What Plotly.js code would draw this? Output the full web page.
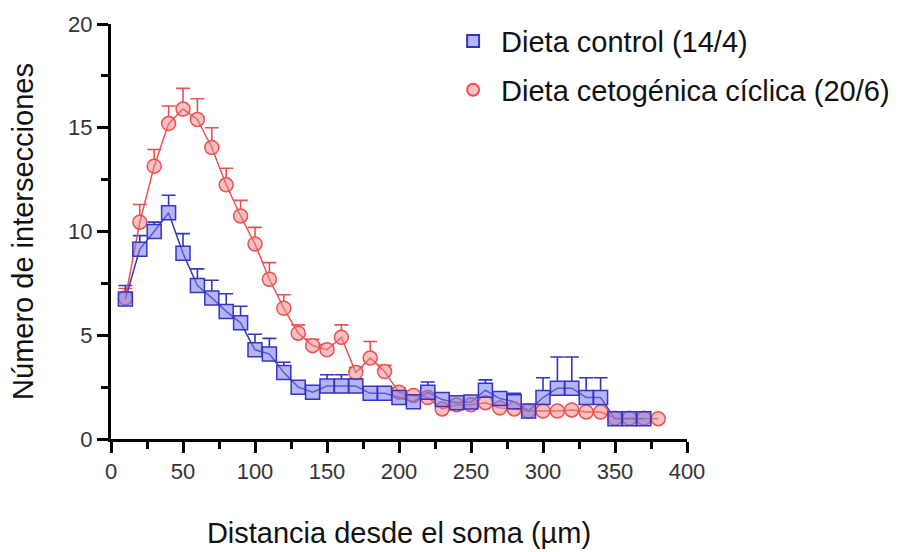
<!DOCTYPE html>
<html>
<head>
<meta charset="utf-8">
<script src="https://cdn.plot.ly/plotly-3.0.1.min.js"></script>
<style>html,body{margin:0;padding:0;background:#fff;}#chart{width:908px;height:552px;}</style>
</head>
<body>
<div id="chart"></div>
<script>
// Distance from soma (µm)
const distBlue = [10,20,30,40,50,60,70,80,90,100,110,120,130,140,150,160,170,180,190,200,210,220,230,240,250,260,270,280,290,300,310,320,330,340,350,360,370];
const distRed  = [10,20,30,40,50,60,70,80,90,100,110,120,130,140,150,160,170,180,190,200,210,220,230,240,250,260,270,280,290,300,310,320,330,340,350,360,370,380];

// Dieta control (14/4)
const blueMean = [6.75,9.15,10.0,10.9,8.95,7.4,6.8,6.15,5.6,4.3,4.1,3.2,2.5,2.25,2.55,2.55,2.55,2.2,2.2,2.0,1.8,2.25,1.9,1.75,1.78,2.35,1.95,1.8,1.35,2.0,2.45,2.45,2.0,2.0,0.97,0.97,0.97];
const blueErr  = [0.65,0.65,0.45,0.85,0.95,0.8,0.85,0.85,0.8,0.75,0.75,0.5,0.3,0.3,0.55,0.55,0.35,0.2,0.2,0.2,0.2,0.5,0.2,0.15,0.2,0.5,0.2,0.4,0.2,0.95,1.5,1.5,0.95,0.95,0.05,0.05,0.05];

// Dieta cetogénica cíclica (20/6)
const redMean = [6.8,10.45,13.15,15.2,15.9,15.4,14.05,12.25,10.75,9.4,7.7,6.3,5.1,4.5,4.3,4.9,3.2,3.9,3.25,2.25,2.1,2.0,1.45,1.65,1.65,1.75,1.5,1.45,1.35,1.35,1.35,1.4,1.3,1.3,1.0,1.0,1.0,0.98];
const redErr  = [0.45,0.85,0.8,0.85,1.0,1.0,0.95,0.8,0.75,0.8,0.8,0.65,0.4,0.3,0.25,0.6,0.25,0.8,0.3,0.2,0.2,0.2,0.15,0.15,0.15,0.2,0.15,0.15,0.1,0.1,0.1,0.1,0.1,0.1,0.05,0.05,0.05,0.05];

const seriesNames = ['Dieta control (14/4)', 'Dieta cetogénica cíclica (20/6)'];

const xTicks = [0,50,100,150,200,250,300,350,400];
const yTicks = [0,5,10,15,20];

const blueLine = '#3434c4', blueFill = 'rgba(120,120,235,0.55)';
const redLine = '#ec5050', redFill = 'rgba(242,130,130,0.5)';

function errTrace(x, y, err, color) {
  return {x: x, y: y, mode: 'markers', showlegend: false, hoverinfo: 'skip',
    marker: {size: 2, color: 'rgba(0,0,0,0)'},
    error_y: {type: 'data', symmetric: false, array: err, arrayminus: err.map(() => 0),
              color: color, thickness: 1.6, width: 7}};
}
function underlay(x, y, symbol) {
  return {x: x, y: y, mode: 'markers', showlegend: false, hoverinfo: 'skip',
    marker: {symbol: symbol, size: 14, color: '#fff', line: {width: 0}}};
}

const traces = [
  errTrace(distRed, redMean, redErr, redLine),
  errTrace(distBlue, blueMean, blueErr, blueLine),
  underlay(distRed, redMean, 'circle'),
  underlay(distBlue, blueMean, 'square'),
  {x: distRed, y: redMean, mode: 'lines', line: {color: redLine, width: 1.5}, showlegend: false, hoverinfo: 'skip'},
  {x: distBlue, y: blueMean, mode: 'lines', line: {color: blueLine, width: 1.5}, showlegend: false, hoverinfo: 'skip'},
  {x: distRed, y: redMean, mode: 'markers', name: seriesNames[1], legendgroup: 'b', legendrank: 2,
   marker: {symbol: 'circle', size: 14, color: redFill, line: {color: redLine, width: 1.5}}},
  {x: distBlue, y: blueMean, mode: 'markers', name: seriesNames[0], legendgroup: 'a', legendrank: 1,
   marker: {symbol: 'square', size: 14, color: blueFill, line: {color: blueLine, width: 1.5}}}
];

const ff = 'Liberation Sans, Arial, sans-serif';

const layout = {
  width: 908, height: 552,
  margin: {l: 111, r: 221, t: 24, b: 113, autoexpand: false},
  paper_bgcolor: '#fff', plot_bgcolor: '#fff',
  font: {family: ff, color: '#222'},
  showlegend: true,
  legend: {x: 0.58, y: 1.02, xanchor: 'left', yanchor: 'top', traceorder: 'grouped', tracegroupgap: 8,
           itemwidth: 46, font: {family: ff, size: 29, color: '#111'}, itemsizing: 'constant', bgcolor: 'rgba(0,0,0,0)'},
  xaxis: {
    range: [0, 400], tickvals: xTicks, ticktext: xTicks.map(String),
    showgrid: false, zeroline: false, showline: true, linecolor: '#000', linewidth: 3,
    ticks: 'outside', ticklen: 11, tickwidth: 3, tickcolor: '#000',
    tickfont: {family: ff, size: 22, color: '#333'},
    minor: {dtick: 25, ticks: 'outside', ticklen: 7, tickwidth: 3, tickcolor: '#000', showgrid: false},
    title: {text: 'Distancia desde el soma (µm)', font: {family: ff, size: 29, color: '#111'}, standoff: 40}
  },
  yaxis: {
    range: [0, 20], tickvals: yTicks, ticktext: yTicks.map(String),
    showgrid: false, zeroline: false, showline: true, linecolor: '#000', linewidth: 3,
    ticks: 'outside', ticklen: 11, tickwidth: 3, tickcolor: '#000',
    tickfont: {family: ff, size: 22, color: '#333'},
    minor: {dtick: 2.5, ticks: 'outside', ticklen: 7, tickwidth: 3, tickcolor: '#000', showgrid: false},
    title: {text: 'Número de intersecciones', font: {family: ff, size: 29, color: '#111'}, standoff: 26}
  }
};

Plotly.newPlot('chart', traces, layout, {displayModeBar: false, staticPlot: true});
</script>
</body>
</html>
